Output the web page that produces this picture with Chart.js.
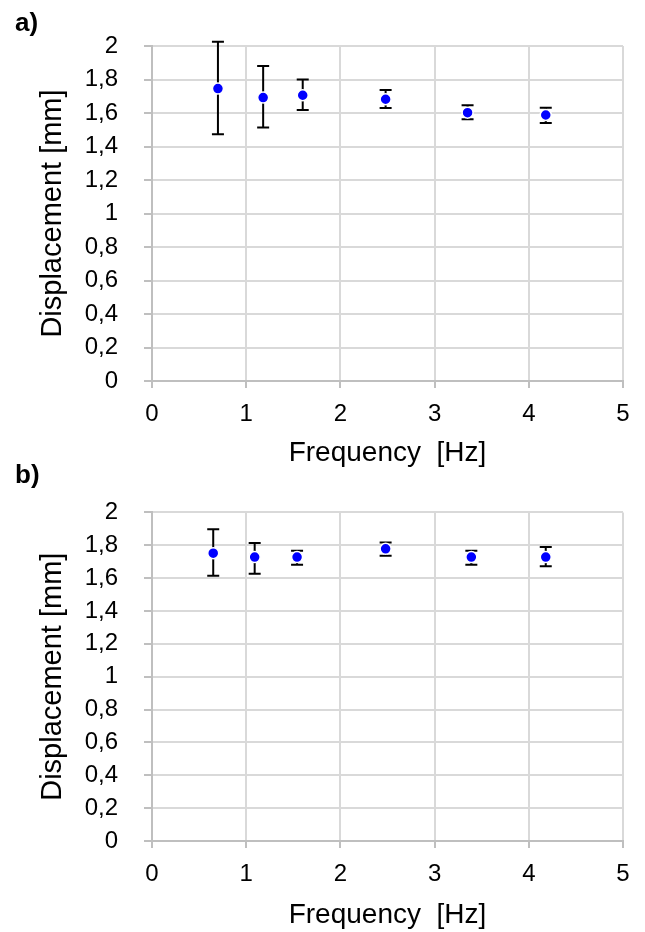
<!DOCTYPE html>
<html>
<head>
<meta charset="utf-8">
<script src="https://cdn.jsdelivr.net/npm/chart.js@4.4.1/dist/chart.umd.min.js"></script>
<style>
    body { margin: 0; background: #fff; }
    .panel { position: relative; width: 645px; }
    .tag { position: absolute; left: 15px; font: bold 26px "Liberation Sans", Arial, sans-serif; color: #000; }
    canvas { display: block; }
</style>
</head>
<body>
<div class="panel">
    <div class="tag" style="top: 7px;">a)</div>
    <canvas id="chart-a" width="645" height="472"></canvas>
</div>
<div class="panel">
    <div class="tag" style="top: -13px;">b)</div>
    <canvas id="chart-b" width="645" height="460"></canvas>
</div>
<script>
// panel a)
var freqA = [0.7, 1.18, 1.6, 2.48, 3.35, 4.18];
var dispA = [1.746, 1.692, 1.706, 1.682, 1.602, 1.588];
var lowA = [1.473, 1.513, 1.618, 1.63, 1.562, 1.54];
var highA = [2.026, 1.88, 1.80, 1.737, 1.646, 1.632];

// panel b)
var freqB = [0.65, 1.09, 1.54, 2.48, 3.39, 4.18];
var dispB = [1.752, 1.728, 1.728, 1.778, 1.728, 1.728];
var lowB = [1.615, 1.627, 1.682, 1.736, 1.682, 1.672];
var highB = [1.897, 1.813, 1.766, 1.817, 1.766, 1.789];

var fontName = '"Liberation Sans", Arial, sans-serif';

function commaLabel(value) {
    return (Math.round(value * 10) / 10).toString().replace('.', ',');
}

// whiskers are drawn under the points, from the low/high arrays
var errorBars = {
    id: 'errorBars',
    beforeDatasetsDraw: function(chart) {
        var ctx = chart.ctx;
        var xs = chart.scales.x;
        var ys = chart.scales.y;
        var ds = chart.data.datasets[0];
        ctx.save();
        ctx.strokeStyle = '#000';
        ctx.lineWidth = 2;
        for (var i = 0; i < ds.data.length; i++) {
            var px = xs.getPixelForValue(ds.data[i].x);
            var top = ys.getPixelForValue(ds.high[i]);
            var bot = ys.getPixelForValue(ds.low[i]);
            ctx.beginPath();
            ctx.moveTo(px, top);
            ctx.lineTo(px, bot);
            ctx.moveTo(px - 6, top);
            ctx.lineTo(px + 6, top);
            ctx.moveTo(px - 6, bot);
            ctx.lineTo(px + 6, bot);
            ctx.stroke();
        }
        ctx.restore();
    }
};

function makeChart(id, freq, disp, low, high, pad) {
    var points = [];
    for (var i = 0; i < freq.length; i++) {
        points.push({x: freq[i], y: disp[i]});
    }
    return new Chart(document.getElementById(id), {
        type: 'scatter',
        data: {
            datasets: [{
                data: points,
                low: low,
                high: high,
                pointRadius: 5.5,
                pointHoverRadius: 5.5,
                backgroundColor: '#0000ff',
                borderColor: '#ffffff',
                borderWidth: 1.5
            }]
        },
        options: {
            responsive: false,
            animation: false,
            layout: {padding: {top: pad.top, right: 22, bottom: pad.bottom, left: 0}},
            plugins: {legend: {display: false}, tooltip: {enabled: false}},
            scales: {
                x: {
                    min: 0,
                    max: 5,
                    afterFit: function(scale) { scale.height = pad.xHeight; },
                    ticks: {stepSize: 1, padding: 12, color: '#000', font: {family: fontName, size: 24}},
                    grid: {color: '#d9d9d9', lineWidth: 2, tickLength: 7, tickColor: '#bfbfbf'},
                    border: {color: '#bfbfbf', width: 2},
                    title: {
                        display: true,
                        text: 'Frequency  [Hz]',
                        color: '#000',
                        padding: 0,
                        font: {family: fontName, size: 28}
                    }
                },
                y: {
                    min: 0,
                    max: 2,
                    afterFit: function(scale) { scale.width = 152; },
                    ticks: {stepSize: 0.2, padding: 26, color: '#000', font: {family: fontName, size: 24}, callback: commaLabel},
                    grid: {color: '#d9d9d9', lineWidth: 2, tickLength: 8, tickColor: '#bfbfbf'},
                    border: {color: '#bfbfbf', width: 2},
                    title: {
                        display: true,
                        text: 'Displacement [mm]',
                        color: '#000',
                        padding: {top: 36, bottom: 0},
                        font: {family: fontName, size: 29}
                    }
                }
            }
        },
        plugins: [errorBars]
    });
}

makeChart('chart-a', freqA, dispA, lowA, highA, {top: 46, bottom: 2, xHeight: 89});
makeChart('chart-b', freqB, dispB, lowB, highB, {top: 37, bottom: 0, xHeight: 91});
</script>
</body>
</html>
